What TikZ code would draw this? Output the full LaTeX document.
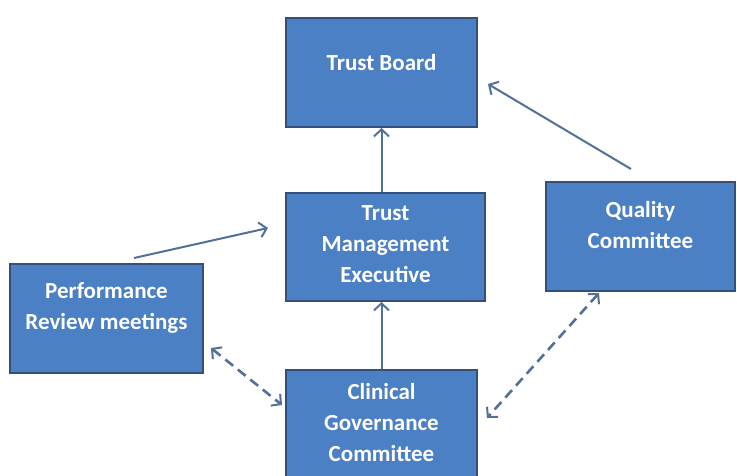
\documentclass[tikz,border=0pt]{standalone}
\usepackage{fontspec}
\setmainfont{Carlito}
\usetikzlibrary{arrows.meta}

\definecolor{boxfill}{HTML}{4C80C4}
\definecolor{boxline}{HTML}{34507A}
\definecolor{linkcol}{HTML}{52709A}

\tikzset{
  orgbox/.style={draw=boxline, line width=2pt, fill=boxfill, inner sep=0pt},
  boxtext/.style={text=white, align=center, font=\fontsize{23}{31}\selectfont\bfseries, inner sep=0pt},
  link/.style={draw=linkcol, line width=2pt, -{Straight Barb[length=7pt,width=15pt,line width=2pt]}},
  duallink/.style={draw=linkcol, line width=2.6pt, dash pattern=on 10pt off 6pt,
    {Straight Barb[length=7pt,width=15pt,line width=2pt]}-{Straight Barb[length=7pt,width=15pt,line width=2pt]}}
}

\begin{document}
\begin{tikzpicture}[x=1pt,y=-1pt]
  \fill[white] (0,0) rectangle (737,475);
  \useasboundingbox (0,0) rectangle (737,475);
  \clip (0,0) rectangle (737,475);

  % boxes
  \node[orgbox, minimum width=191pt, minimum height=109pt] (tb)  at (381.5,72.5) {};
  \node[orgbox, minimum width=199pt, minimum height=108pt] (tme) at (385.5,247) {};
  \node[orgbox, minimum width=189pt, minimum height=109pt] (qc)  at (640.5,236.5) {};
  \node[orgbox, minimum width=193pt, minimum height=109pt] (pr)  at (106.5,318.5) {};
  \node[orgbox, minimum width=191pt, minimum height=109pt] (cgc) at (381.5,424.5) {};

  % box captions
  \node[boxtext] (tbtxt)  at ([yshift=9.5pt]tb.center)  {Trust Board};
  \node[boxtext] (tmetxt) at ([yshift=2.5pt]tme.center) {Trust\\Management\\Executive};
  \node[boxtext] (qctxt)  at ([yshift=11pt]qc.center)   {Quality\\Committee};
  \node[boxtext] (prtxt)  at ([yshift=11pt]pr.center)   {Performance\\Review meetings};
  \node[boxtext] (cgctxt) at ([yshift=2pt]cgc.center)   {Clinical\\Governance\\Committee};

  % reporting lines
  \draw[link] (cgc.north) -- (cgc.north |- tme.south);
  \draw[link] (tb.south |- tme.north) -- (tb.south);
  \draw[link] ([xshift=86pt,yshift=12pt]qc.north west) -- ([xshift=10pt,yshift=-11.5pt]tb.east);
  \draw[link] ([xshift=27.5pt,yshift=5pt]pr.north) -- ([xshift=-17pt,yshift=19pt]tme.west);

  % two-way links
  \draw[duallink] ([xshift=7pt,yshift=-29.5pt]pr.east) -- ([xshift=-3pt,yshift=19.5pt]cgc.west);
  \draw[duallink] ([xshift=-41.5pt,yshift=-1pt]qc.south) -- ([xshift=9pt,yshift=6.5pt]cgc.east);
\end{tikzpicture}
\end{document}
